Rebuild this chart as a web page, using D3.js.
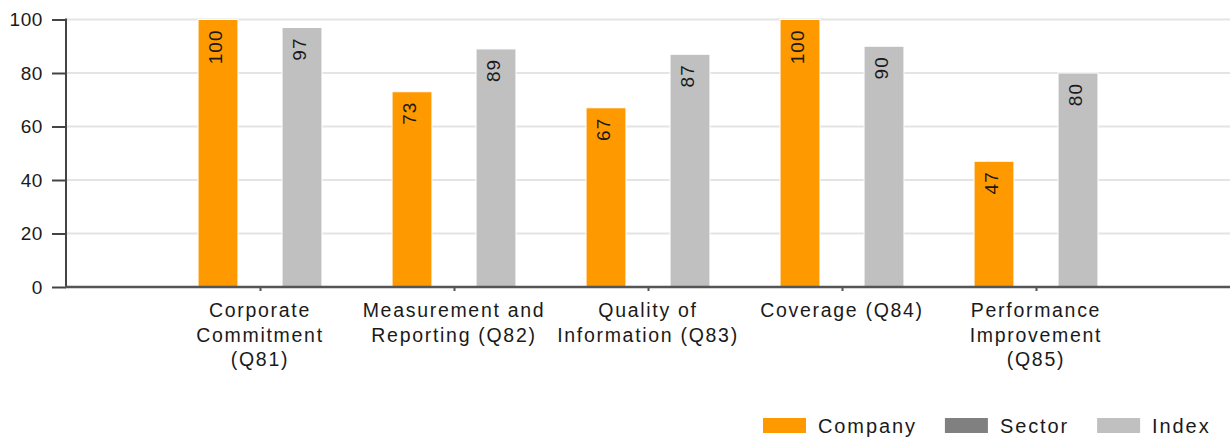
<!DOCTYPE html>
<html>
<head>
<meta charset="utf-8">
<script src="https://cdn.jsdelivr.net/npm/d3@7"></script>
<style>
  body { margin: 0; background: #fff; }
  text { font-family: "Liberation Sans", Arial, sans-serif; fill: #1a1a1a; }
</style>
</head>
<body>
<div id="chart"></div>
<script>
// Data for the chart
const categories = [
    ["Corporate", "Commitment", "(Q81)"],
    ["Measurement and", "Reporting (Q82)"],
    ["Quality of", "Information (Q83)"],
    ["Coverage (Q84)"],
    ["Performance", "Improvement", "(Q85)"]
];
const seriesNames = ["Company", "Sector", "Index"];
const companyValues = [100, 73, 67, 100, 47];
const sectorValues = [null, null, null, null, null];
const indexValues = [97, 89, 87, 90, 80];
const yTicks = [0, 20, 40, 60, 80, 100];

const colors = { Company: "#ff9900", Sector: "#808080", Index: "#c0c0c0" };

const W = 1230, H = 443;
const plot = { left: 66, right: 1230, top: 19.5, bottom: 287 };

const svg = d3.select("#chart")
    .append("svg")
    .attr("width", W)
    .attr("height", H);

const keys = categories.map((c, i) => i);

// Scales
const x = d3.scalePoint()
    .domain(keys)
    .range([plot.left, plot.right])
    .padding(1);

const xs = d3.scaleBand()
    .domain(seriesNames)
    .range([-63, 63])
    .paddingInner(0.05)
    .paddingOuter(0.025);

const y = d3.scaleLinear()
    .domain([0, 100])
    .range([plot.bottom, plot.top]);

// Gridlines
svg.append("g")
    .selectAll("line")
    .data(yTicks.filter(d => d > 0))
    .enter()
    .append("line")
    .attr("x1", plot.left)
    .attr("x2", plot.right)
    .attr("y1", d => y(d))
    .attr("y2", d => y(d))
    .style("stroke", "#e4e4e4")
    .style("stroke-width", 2);

// Bars
const rows = [];
keys.forEach(i => {
    rows.push({ cat: i, series: "Company", value: companyValues[i] });
    rows.push({ cat: i, series: "Sector", value: sectorValues[i] });
    rows.push({ cat: i, series: "Index", value: indexValues[i] });
});
const bars = rows.filter(d => d.value != null);

svg.selectAll(".bar")
    .data(bars)
    .enter()
    .append("rect")
    .attr("class", "bar")
    .attr("x", d => x(d.cat) + xs(d.series))
    .attr("width", xs.bandwidth())
    .attr("y", d => y(d.value))
    .attr("height", d => y(0) - y(d.value))
    .style("fill", d => colors[d.series])
    .style("stroke", "#fff")
    .style("stroke-width", 1);

// Value labels, rotated inside the bars
svg.selectAll(".label")
    .data(bars)
    .enter()
    .append("text")
    .attr("class", "label")
    .attr("transform", d => `translate(${x(d.cat) + xs(d.series) + xs.bandwidth() / 2 + 4},${y(d.value) + 10}) rotate(-90)`)
    .attr("text-anchor", "end")
    .style("font-size", "19px")
    .style("letter-spacing", "1px")
    .text(d => d.value);

// Y axis
const yAxis = svg.append("g")
    .attr("transform", `translate(${plot.left},0)`)
    .call(d3.axisLeft(y).tickValues(yTicks).tickSize(14).tickPadding(9));
yAxis.select(".domain").remove();
yAxis.selectAll(".tick line").style("stroke", "#444").style("stroke-width", 2);
yAxis.selectAll(".tick text")
    .attr("font-family", null)
    .style("font-size", "19px")
    .style("letter-spacing", "0.6px")
    .style("fill", "#1a1a1a");
yAxis.append("line")
    .attr("y1", plot.top - 1)
    .attr("y2", plot.bottom + 1)
    .style("stroke", "#444")
    .style("stroke-width", 2);

// X axis
const xAxis = svg.append("g")
    .attr("transform", `translate(0,${plot.bottom})`)
    .call(d3.axisBottom(x).tickSize(4).tickFormat(""));
xAxis.select(".domain").remove();
xAxis.selectAll(".tick line").style("stroke", "#555").style("stroke-width", 2);
xAxis.append("line")
    .attr("x1", plot.left - 1)
    .attr("x2", plot.right)
    .style("stroke", "#555")
    .style("stroke-width", 2.5);

// Category labels
const catLabels = svg.selectAll(".cat")
    .data(categories)
    .enter()
    .append("text")
    .attr("class", "cat")
    .attr("text-anchor", "middle")
    .style("font-size", "19.5px")
    .style("letter-spacing", "1.7px");
catLabels.selectAll("tspan")
    .data((d, i) => d.map(t => ({ t, i })))
    .enter()
    .append("tspan")
    .attr("x", d => x(d.i))
    .attr("y", (d, j) => 317 + j * 24.5)
    .text(d => d.t);

// Legend
const legend = svg.append("g").attr("transform", "translate(763,418)");
let lx = 0;
seriesNames.forEach(name => {
    legend.append("rect")
        .attr("x", lx)
        .attr("y", 0)
        .attr("width", 43)
        .attr("height", 15)
        .style("fill", colors[name]);
    const t = legend.append("text")
        .attr("x", lx + 55)
        .attr("y", 15)
        .style("font-size", "20px")
        .style("letter-spacing", "1.9px")
        .text(name);
    lx += 55 + t.node().getComputedTextLength() + 28;
});
</script>
</body>
</html>
